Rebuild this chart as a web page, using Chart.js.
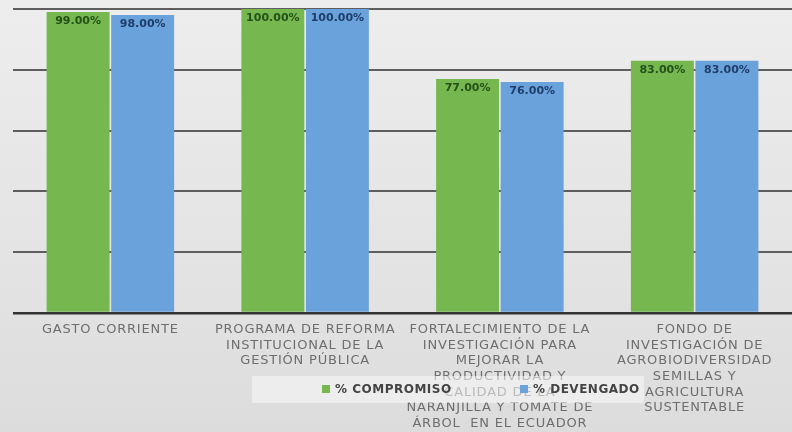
<!DOCTYPE html>
<html>
<head>
<meta charset="utf-8">
<script src="https://cdn.jsdelivr.net/npm/chart.js@4.4.1/dist/chart.umd.min.js"></script>
<style>
  html, body { margin: 0; padding: 0; }
  body { width: 792px; height: 432px; overflow: hidden;
         background: linear-gradient(#ededed, #e2e2e2 70%, #dcdcdc); }
  #wrap { position: relative; width: 792px; height: 432px; }
  #legend { position: absolute; left: 252px; top: 376px; width: 392px; height: 27px;
            background: rgba(250, 250, 250, 0.55);
            font: bold 12px "DejaVu Sans", sans-serif; color: #444; letter-spacing: 0.5px; }
  #legend span.item { position: absolute; top: 6px; white-space: nowrap; }
  #legend i { display: inline-block; width: 8px; height: 8px; margin-right: 5px; vertical-align: 0px; }
</style>
</head>
<body>
<div id="wrap">
  <canvas id="chart" width="792" height="432"></canvas>
  <div id="legend"></div>
</div>
<script>
var categorias = [
  ["GASTO CORRIENTE"],
  ["PROGRAMA DE REFORMA", "INSTITUCIONAL DE LA", "GESTIÓN PÚBLICA"],
  ["FORTALECIMIENTO DE LA", "INVESTIGACIÓN PARA", "MEJORAR LA", "PRODUCTIVIDAD Y",
   "CALIDAD DE LA", "NARANJILLA Y TOMATE DE", "ÁRBOL  EN EL ECUADOR"],
  ["FONDO DE", "INVESTIGACIÓN DE", "AGROBIODIVERSIDAD", "SEMILLAS Y",
   "AGRICULTURA", "SUSTENTABLE"]
];
var compromiso = [99, 100, 77, 83];
var devengado = [98, 100, 76, 83];

var verde = "#76b84f";
var azul = "#6aa2db";

// texto del eje x un poco espaciado
var espaciado = {
  id: "espaciado",
  beforeDraw: function (chart) { chart.ctx.letterSpacing = "0.8px"; },
  afterDraw: function (chart) { chart.ctx.letterSpacing = "0px"; }
};

// porcentajes escritos arriba, dentro de cada barra
var etiquetas = {
  id: "etiquetas",
  afterDatasetsDraw: function (chart) {
    var ctx = chart.ctx;
    ctx.save();
    ctx.letterSpacing = "0px";
    ctx.font = "bold 11px 'DejaVu Sans', sans-serif";
    ctx.textAlign = "center";
    ctx.textBaseline = "top";
    chart.data.datasets.forEach(function (ds, i) {
      chart.getDatasetMeta(i).data.forEach(function (bar, j) {
        ctx.fillStyle = ds.labelColor;
        ctx.fillText(ds.data[j].toFixed(2) + "%", bar.x, bar.y + 4);
      });
    });
    ctx.restore();
  }
};

var grafico = new Chart(document.getElementById("chart"), {
  type: "bar",
  data: {
    labels: categorias,
    datasets: [
      { label: "% COMPROMISO", data: compromiso, backgroundColor: verde, labelColor: "#24501a" },
      { label: "% DEVENGADO", data: devengado, backgroundColor: azul, labelColor: "#1f3d6b" }
    ]
  },
  options: {
    responsive: false,
    animation: false,
    categoryPercentage: 0.663,
    barPercentage: 0.975,
    layout: { padding: { left: 13, top: 9, right: -3, bottom: 0 } },
    plugins: {
      legend: { display: false },
      tooltip: { enabled: false }
    },
    scales: {
      x: {
        grid: { display: false, drawTicks: false },
        border: { display: false },
        ticks: {
          autoSkip: false, maxRotation: 0, padding: 9,
          color: "#6e6e6e",
          font: { family: "'DejaVu Sans', sans-serif", size: 13, lineHeight: 1.2 }
        },
        afterFit: function (scale) { scale.height = 119; }
      },
      y: {
        min: 0, max: 100,
        border: { display: false },
        ticks: { display: false, stepSize: 20 },
        grid: {
          drawTicks: false,
          lineWidth: function (c) { return c.tick.value === 0 ? 2.5 : 2; },
          color: function (c) { return c.tick.value === 0 ? "#333" : "#5e5e5e"; }
        }
      }
    }
  },
  plugins: [espaciado, etiquetas]
});

// leyenda sobre las etiquetas del eje
var leyenda = document.getElementById("legend");
var posiciones = [70, 268];
grafico.data.datasets.forEach(function (ds, i) {
  var s = document.createElement("span");
  s.className = "item";
  s.style.left = posiciones[i] + "px";
  s.innerHTML = '<i style="background:' + ds.backgroundColor + '"></i>' + ds.label;
  leyenda.appendChild(s);
});
</script>
</body>
</html>
